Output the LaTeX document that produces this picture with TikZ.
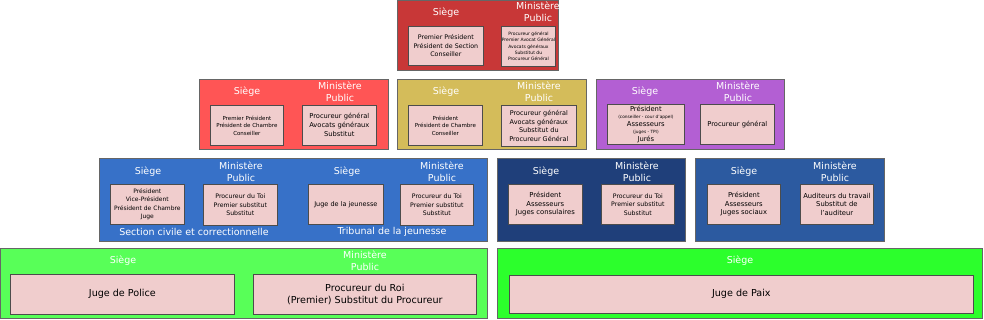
\documentclass[tikz,border=0pt]{standalone}
\usepackage{fontspec}
\setmainfont{DejaVu Sans}
\usepackage{tikz}
\usetikzlibrary{positioning}
\definecolor{cassred}{HTML}{C83737}
\definecolor{appelred}{HTML}{FF5555}
\definecolor{travyellow}{HTML}{D4BC5A}
\definecolor{assisespurple}{HTML}{B35FD3}
\definecolor{tpiblue}{HTML}{3771C8}
\definecolor{commnavy}{HTML}{1F3F7A}
\definecolor{ttravblue}{HTML}{2C5AA0}
\definecolor{policegreen}{HTML}{58FF58}
\definecolor{paixgreen}{HTML}{2CFF2C}
\definecolor{pinkbox}{HTML}{F0CDCD}
\newcommand{\fsz}[2]{\fontsize{#1}{#2}\selectfont}
\tikzset{
  court/.style={draw=black!60, line width=0.8pt, fill=#1, anchor=north west, inner sep=0pt},
  juge/.style={draw=black!70, line width=0.7pt, fill=pinkbox, anchor=north west, inner sep=0.5pt, align=center, text=black},
  hdr/.style={text=white, align=center, font=\fsz{9.5}{11.5}, inner sep=0pt},
}

\begin{document}
\begin{tikzpicture}[x=1pt,y=-1pt]
  \useasboundingbox (0,0) rectangle (984,320);
  \fill[white] (0,0) rectangle (984,320);
  % courts
  \node[court=cassred, minimum width=161pt, minimum height=70pt] (cass) at (397,0) {};
  \node[court=appelred, minimum width=189pt, minimum height=70pt] (appel) at (199,79) {};
  \node[court=travyellow, minimum width=189pt, minimum height=70pt] (trav) at (397,79) {};
  \node[court=assisespurple, minimum width=188pt, minimum height=70pt] (assises) at (596,79) {};
  \node[court=tpiblue, minimum width=388pt, minimum height=83pt] (tpi) at (99,158) {};
  \node[court=commnavy, minimum width=188pt, minimum height=83pt] (comm) at (497,158) {};
  \node[court=ttravblue, minimum width=189pt, minimum height=83pt] (ttrav) at (695,158) {};
  \node[court=policegreen, minimum width=487pt, minimum height=70pt] (police) at (0,248) {};
  \node[court=paixgreen, minimum width=485pt, minimum height=70pt] (paix) at (497,248) {};

  % Cour de cassation
  \node[hdr] (cassSh) at (446,13) {Siège};
  \node[hdr] (cassMh) at (538,12) {Ministère\\Public};
  \node[juge, minimum width=75pt, minimum height=39pt, font=\fsz{6.3}{8.5}] (cassS) at (408,26)
    {Premier Président\\Président de Section\\Conseiller};
  \node[juge, minimum width=52pt, minimum height=40pt, font=\fsz{4.5}{6.4}] (cassM) at (501,26)
    {Procureur général\\Premier Avocat Général\\Avocats généraux\\Substitut du\\Procureur Général};

  % Cours d'appel, du travail, d'assises
  \node[hdr] (appelSh) at (247,92) {Siège};
  \node[hdr] (appelMh) at (340,92) {Ministère\\Public};
  \node[juge, minimum width=73pt, minimum height=40pt, font=\fsz{5.5}{7.5}] (appelS) at (210,105)
    {Premier Président\\Président de Chambre\\Conseiller};
  \node[juge, minimum width=74pt, minimum height=40pt, font=\fsz{6.7}{9}] (appelM) at (302,105)
    {Procureur général\\Avocats généraux\\Substitut};
  \node[hdr] (travSh) at (446,92) {Siège};
  \node[hdr] (travMh) at (539,92) {Ministère\\Public};
  \node[juge, minimum width=74pt, minimum height=40pt, font=\fsz{5.5}{7.5}] (travS) at (408,105)
    {Président\\Président de Chambre\\Conseiller};
  \node[juge, minimum width=75pt, minimum height=41pt, font=\fsz{6.5}{8.5}] (travM) at (501,105)
    {Procureur général\\Avocats généraux\\Substitut du\\Procureur Général};
  \node[hdr] (assisesSh) at (645,92) {Siège};
  \node[hdr] (assisesMh) at (738,92) {Ministère\\Public};
  \node[juge, minimum width=77pt, minimum height=40pt, font=\fsz{6.8}{7.6}] (assisesS) at (607,104)
    {Président\\{\fsz{4.3}{5}(conseiller - cour d'appel)}\\Assesseurs\\{\fsz{4.3}{5}(juges - TPI)}\\Jurés};
  \node[juge, minimum width=74pt, minimum height=40pt, font=\fsz{6.7}{9}] (assisesM) at (700,104)
    {Procureur général};

  % Tribunaux de première instance, de commerce, du travail
  \node[hdr] (tpiSh1) at (148,172) {Siège};
  \node[hdr] (tpiMh1) at (241,172) {Ministère\\Public};
  \node[juge, minimum width=74pt, minimum height=40pt, font=\fsz{6}{8.3}] (tpiS1) at (110,184)
    {Président\\Vice-Président\\Président de Chambre\\Juge};
  \node[juge, minimum width=74pt, minimum height=41pt, font=\fsz{6.2}{8.5}] (tpiM1) at (203,184)
    {Procureur du Toi\\Premier substitut\\Substitut};
  \node[hdr] (tpiSh2) at (347,172) {Siège};
  \node[hdr] (tpiMh2) at (442,172) {Ministère\\Public};
  \node[juge, minimum width=75pt, minimum height=40pt, font=\fsz{6.5}{8.5}] (tpiS2) at (308,184)
    {Juge de la jeunesse};
  \node[juge, minimum width=73pt, minimum height=41pt, font=\fsz{6.2}{8.5}] (tpiM2) at (400,184)
    {Procureur du Toi\\Premier substitut\\Substitut};
  \node[hdr] (tpiL1) at (194,232) {Section civile et correctionnelle};
  \node[hdr] (tpiL2) at (392,232) {Tribunal de la jeunesse};
  \node[hdr] (commSh) at (546,172) {Siège};
  \node[hdr] (commMh) at (637,172) {Ministère\\Public};
  \node[juge, minimum width=74pt, minimum height=40pt, font=\fsz{6.8}{8.5}] (commS) at (508,184)
    {Président\\Assesseurs\\Juges consulaires};
  \node[juge, minimum width=73pt, minimum height=40pt, font=\fsz{6.2}{8.5}] (commM) at (601,184)
    {Procureur du Toi\\Premier substitut\\Substitut};
  \node[hdr] (ttravSh) at (744,172) {Siège};
  \node[hdr] (ttravMh) at (835,172) {Ministère\\Public};
  \node[juge, minimum width=73pt, minimum height=40pt, font=\fsz{6.8}{8.5}] (ttravS) at (707,184)
    {Président\\Assesseurs\\Juges sociaux};
  \node[juge, minimum width=73pt, minimum height=40pt, font=\fsz{6.8}{8.5}] (ttravM) at (800,184)
    {Auditeurs du travail\\Substitut de\\l'auditeur};

  % Tribunal de police, justice de paix
  \node[hdr] (policeSh) at (123,261) {Siège};
  \node[hdr] (policeMh) at (365,261) {Ministère\\Public};
  \node[juge, minimum width=224pt, minimum height=40pt, font=\fsz{9.6}{11.7}] (policeS) at (10,274)
    {Juge de Police};
  \node[juge, minimum width=223pt, minimum height=40pt, font=\fsz{9.6}{11.7}] (policeM) at (253,274)
    {Procureur du Roi\\(Premier) Substitut du Procureur};
  \node[hdr] (paixSh) at (740,261) {Siège};
  \node[juge, minimum width=464pt, minimum height=38pt, font=\fsz{9.6}{11.7}] (paixS) at (509,275)
    {Juge de Paix};
\end{tikzpicture}
\end{document}
